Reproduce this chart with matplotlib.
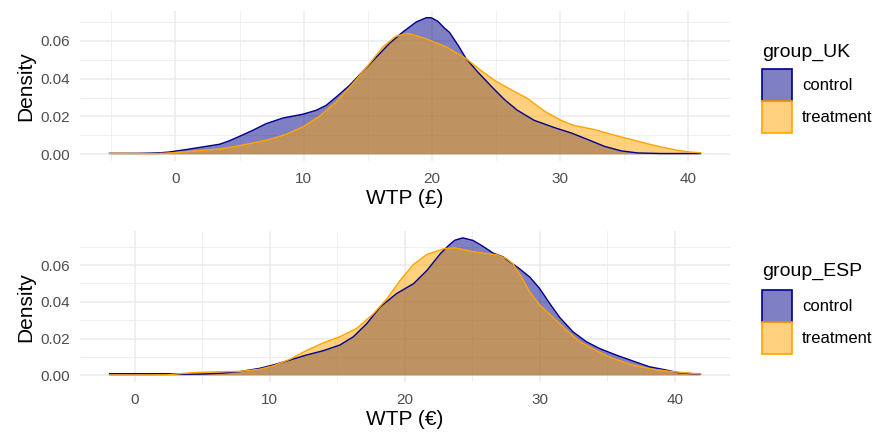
import matplotlib
matplotlib.use("Agg")
import matplotlib.pyplot as plt
from matplotlib.patches import Patch
from matplotlib.ticker import MultipleLocator

plt.rcParams['font.family'] = ['Liberation Sans', 'DejaVu Sans']

# ---------------- data ----------------
groups = ["control", "treatment"]

uk_control_x = [-5.15, -4, -3, -2, -1, -0.47, 0.83, 2.14, 3.44, 4.2, 5.0, 6.04, 7.08, 8.4,
                9.95, 11.0, 11.77, 12.55, 13.6, 14.6, 15.7, 16.7, 17.76, 18.8, 19.6, 20.0,
                20.5, 21.0, 21.4, 22.07, 22.7, 23.6, 24.66, 25.7, 26.7, 28.0, 29.6, 30.9,
                32.2, 33.5, 34.8, 36.1, 37.9, 39.5, 41.0]
uk_control_y = [0.0005, 0.0005, 0.0005, 0.0006, 0.0009, 0.0012, 0.0025, 0.0039, 0.0053,
                0.0071, 0.0095, 0.0127, 0.0162, 0.0192, 0.0212, 0.0233, 0.0259, 0.0303,
                0.0365, 0.0436, 0.0515, 0.0586, 0.0647, 0.0700, 0.0723, 0.0722, 0.0703,
                0.0668, 0.0645, 0.0577, 0.0506, 0.0436, 0.0360, 0.0289, 0.0233, 0.0180,
                0.0141, 0.0113, 0.0078, 0.0042, 0.0018, 0.0007, 0.0004, 0.0004, 0.0004]

uk_treat_x = [-5.15, -4, -3, -2, -1, -0.47, 0.8, 2.14, 3.44, 4.74, 6.04, 7.34, 8.65, 9.95,
              11.25, 12.55, 13.85, 15.16, 16.2, 17.2, 18.15, 19.3, 20.4, 21.2, 22.7, 23.9,
              24.9, 26.2, 27.5, 28.8, 30.1, 31.1, 32.7, 34.0, 35.3, 36.6, 37.9, 39.2,
              40.2, 41.0]
uk_treat_y = [0.0005, 0.0005, 0.0004, 0.0003, 0.0005, 0.0007, 0.0013, 0.0021, 0.0028,
              0.0042, 0.0060, 0.0078, 0.0106, 0.0145, 0.0201, 0.0277, 0.0374, 0.0480,
              0.0568, 0.0624, 0.0640, 0.0617, 0.0589, 0.0566, 0.0506, 0.0441, 0.0392,
              0.0342, 0.0295, 0.0229, 0.0180, 0.0153, 0.0131, 0.0106, 0.0083, 0.0060,
              0.0039, 0.0021, 0.0012, 0.0008]

esp_control_x = [-1.85, 0, 1, 2.6, 3.5, 5, 6.5, 7.77, 9.26, 10.25, 11.5, 12.7, 13.97, 15.2,
                 16.2, 17.2, 18.2, 19.4, 20.66, 21.65, 22.64, 23.26, 23.7, 24.3, 25.07,
                 25.8, 26.55, 27.3, 27.8, 28.5, 29.26, 30.0, 30.74, 31.48, 32.46, 33.45,
                 34.43, 35.67, 36.9, 38.1, 39.36, 40.3, 41.9]
esp_control_y = [0.0009, 0.0009, 0.0009, 0.0009, 0.0006, 0.0007, 0.0012, 0.0020, 0.0038,
                 0.0056, 0.0083, 0.0110, 0.0134, 0.0165, 0.0210, 0.0282, 0.0373, 0.0445,
                 0.0499, 0.0571, 0.0662, 0.0707, 0.0735, 0.0748, 0.0734, 0.0702, 0.0665,
                 0.0644, 0.0617, 0.0580, 0.0535, 0.0472, 0.0391, 0.0315, 0.0237, 0.0183,
                 0.0146, 0.0110, 0.0078, 0.0047, 0.0029, 0.0014, 0.0006]

esp_treat_x = [-1.85, 0, 1, 2.4, 3.2, 4.4, 6, 7.77, 9.26, 10.25, 11.5, 12.7, 13.97, 15.2,
               16.44, 17.7, 18.7, 19.67, 20.66, 21.65, 22.9, 23.7, 24.58, 25.57, 26.8,
               27.54, 28.0, 28.65, 29.26, 30.0, 31.0, 31.97, 32.96, 34.19, 35.4, 36.9,
               38.37, 39.85, 41.9]
esp_treat_y = [0.0002, 0.0002, 0.0002, 0.0003, 0.0008, 0.0015, 0.0019, 0.0021, 0.0033,
               0.0051, 0.0087, 0.0134, 0.0177, 0.0210, 0.0255, 0.0336, 0.0418, 0.0517,
               0.0604, 0.0658, 0.0689, 0.0694, 0.0680, 0.0667, 0.0656, 0.0635, 0.0608,
               0.0535, 0.0454, 0.0382, 0.0315, 0.0246, 0.0183, 0.0134, 0.0092, 0.0056,
               0.0033, 0.0020, 0.0007]

panels = [
    dict(curves=[(uk_control_x, uk_control_y), (uk_treat_x, uk_treat_y)],
         xlabel="WTP (£)", legend_title="group_UK"),
    dict(curves=[(esp_control_x, esp_control_y), (esp_treat_x, esp_treat_y)],
         xlabel="WTP (€)", legend_title="group_ESP"),
]

line_colors = ["#00008B", "#FFA500"]
alpha = 0.5
grid_col = "#EBEBEB"

# ---------------- figure ----------------
W, H = 874, 432
fig = plt.figure(figsize=(W / 100, H / 100), dpi=100)

axes_px = [(80, 10.8, 730, 161.1), (80, 231.0, 730, 382.2)]  # left, top, right, bottom
legend_px = [dict(title=(762, 52), keys=(762, 69)),
             dict(title=(762, 271), keys=(762, 290))]

for p, (l, t, r, b), lg in zip(panels, axes_px, legend_px):
    ax = fig.add_axes([l / W, 1 - b / H, (r - l) / W, (b - t) / H])
    allx = [v for cx, _ in p["curves"] for v in cx]
    ally = [v for _, cy in p["curves"] for v in cy]
    xmin, xmax = min(allx), max(allx)
    ymax = max(ally)
    dx = (xmax - xmin) * 0.05
    ax.set_xlim(xmin - dx, xmax + dx)
    ax.set_ylim(-0.05 * ymax, 1.05 * ymax)

    for (cx, cy), col in zip(p["curves"], line_colors):
        ax.fill_between(cx, cy, 0, facecolor=col, alpha=alpha, linewidth=0, zorder=2)
        ax.plot(cx, cy, color=col, lw=1.0, zorder=3)

    ax.xaxis.set_major_locator(MultipleLocator(10))
    ax.xaxis.set_minor_locator(MultipleLocator(5))
    ax.yaxis.set_major_locator(MultipleLocator(0.02))
    ax.yaxis.set_minor_locator(MultipleLocator(0.01))
    ax.yaxis.set_major_formatter(matplotlib.ticker.FuncFormatter(lambda v, _: f"{v:.2f}"))
    ax.grid(which="major", color=grid_col, lw=1.1, zorder=0)
    ax.grid(which="minor", color=grid_col, lw=0.55, zorder=0)
    ax.set_axisbelow(True)
    for s in ax.spines.values():
        s.set_visible(False)
    ax.tick_params(which="both", length=0, labelsize=11, labelcolor="#4D4D4D")
    ax.tick_params(axis="x", pad=8)
    ax.tick_params(axis="y", pad=7)
    ax.set_xlabel(p["xlabel"], fontsize=15, labelpad=2, color="black")
    ax.set_ylabel("Density", fontsize=15, labelpad=4, color="black")

    # legend
    fig.text(lg["title"][0] / W, 1 - lg["title"][1] / H, p["legend_title"],
             fontsize=14, ha="left", va="center", color="black")
    handles = [Patch(facecolor=matplotlib.colors.to_rgba(c, alpha), edgecolor=c, lw=1.2)
               for c in line_colors]
    fs = 12
    fs_px = fs * 100 / 72
    fig.legend(handles, groups, loc="upper left",
               bbox_to_anchor=(lg["keys"][0] / W, 1 - lg["keys"][1] / H),
               frameon=False, fontsize=fs, borderpad=0, borderaxespad=0,
               labelspacing=0, handlelength=30 / fs_px, handleheight=2.56,
               handletextpad=0.6)

fig.savefig("out.png", dpi=100)
